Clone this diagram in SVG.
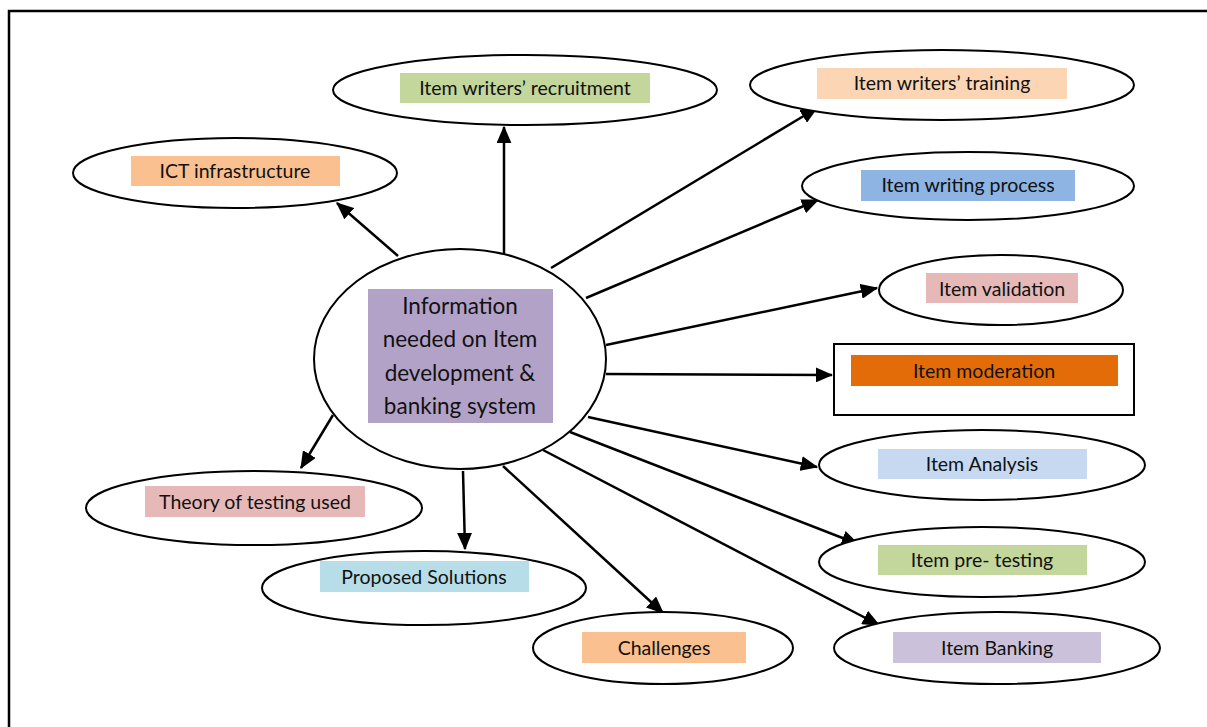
<svg xmlns="http://www.w3.org/2000/svg" width="1207" height="727" viewBox="0 0 1207 727">
  <style>
    .oval { fill: #ffffff; stroke: #000000; stroke-width: 2; }
    .lbl { font-family: Lato, "Liberation Sans", sans-serif; font-size: 19.5px; fill: #111111; text-anchor: middle; dominant-baseline: central; }
    .hub { font-family: Lato, "Liberation Sans", sans-serif; font-size: 22.5px; fill: #111111; text-anchor: middle; dominant-baseline: central; }
    .link { stroke: #000000; stroke-width: 2.5; fill: none; marker-end: url(#head); }
  </style>
  <defs>
    <marker id="head" markerWidth="7" markerHeight="6" refX="6.5" refY="3" orient="auto" markerUnits="strokeWidth">
      <path d="M0,0 L7,3 L0,6 Z" fill="#000000"/>
    </marker>
  </defs>

  <rect width="1207" height="727" fill="#ffffff"/>
  <!-- page frame -->
  <path d="M9,727 L9,11 L1207,11" fill="none" stroke="#000000" stroke-width="2.5"/>

  <g id="connectors">
    <line class="link" x1="398" y1="256" x2="337" y2="203"/>
    <line class="link" x1="504" y1="256" x2="504" y2="127"/>
    <line class="link" x1="551" y1="268" x2="817" y2="108"/>
    <line class="link" x1="586" y1="298" x2="818" y2="200"/>
    <line class="link" x1="606" y1="345" x2="877" y2="288"/>
    <line class="link" x1="606" y1="374" x2="832" y2="375"/>
    <line class="link" x1="588" y1="417" x2="817" y2="467"/>
    <line class="link" x1="570" y1="432" x2="858" y2="544"/>
    <line class="link" x1="543" y1="450" x2="879" y2="625"/>
    <line class="link" x1="503" y1="466" x2="663" y2="613"/>
    <line class="link" x1="463" y1="471" x2="465" y2="549"/>
    <line class="link" x1="333" y1="415" x2="301" y2="468"/>
  </g>

  <g id="hub">
    <ellipse class="oval" cx="460" cy="359" rx="146" ry="110"/>
    <rect x="368" y="289" width="185" height="134" fill="#B3A2C7"/>
    <text class="hub" x="460" y="305">Information</text>
    <text class="hub" x="460" y="338">needed on Item</text>
    <text class="hub" x="460" y="372">development &amp;</text>
    <text class="hub" x="460" y="405">banking system</text>
  </g>

  <g id="ict">
    <ellipse class="oval" cx="235" cy="173" rx="162" ry="35"/>
    <rect x="131" y="156" width="209" height="30" fill="#FAC090"/>
    <text class="lbl" x="235" y="170">ICT infrastructure</text>
  </g>

  <g id="recruitment">
    <ellipse class="oval" cx="525" cy="90" rx="192" ry="35"/>
    <rect x="400" y="73" width="250" height="30" fill="#C3D69B"/>
    <text class="lbl" x="525" y="87">Item writers’ recruitment</text>
  </g>

  <g id="training">
    <ellipse class="oval" cx="942" cy="85" rx="192" ry="35"/>
    <rect x="817" y="68" width="250" height="31" fill="#FCD5B5"/>
    <text class="lbl" x="942" y="82">Item writers’ training</text>
  </g>

  <g id="writing">
    <ellipse class="oval" cx="968" cy="186" rx="166" ry="34"/>
    <rect x="861" y="170" width="214" height="31" fill="#8EB4E3"/>
    <text class="lbl" x="968" y="184">Item writing process</text>
  </g>

  <g id="validation">
    <ellipse class="oval" cx="1001" cy="290" rx="122" ry="35"/>
    <rect x="926" y="273" width="152" height="30" fill="#E6B9B8"/>
    <text class="lbl" x="1002" y="288">Item validation</text>
  </g>

  <g id="moderation">
    <rect x="834" y="344" width="300" height="71" fill="#ffffff" stroke="#000000" stroke-width="2"/>
    <rect x="851" y="355" width="267" height="31" fill="#E36C09"/>
    <text class="lbl" x="984" y="370">Item moderation</text>
  </g>

  <g id="analysis">
    <ellipse class="oval" cx="982" cy="465" rx="163" ry="35"/>
    <rect x="878" y="449" width="209" height="30" fill="#C6D9F1"/>
    <text class="lbl" x="982" y="463">Item Analysis</text>
  </g>

  <g id="pretesting">
    <ellipse class="oval" cx="982" cy="562" rx="163" ry="35"/>
    <rect x="878" y="545" width="209" height="30" fill="#C3D69B"/>
    <text class="lbl" x="982" y="559">Item pre- testing</text>
  </g>

  <g id="banking">
    <ellipse class="oval" cx="997" cy="648" rx="163" ry="36"/>
    <rect x="893" y="632" width="208" height="31" fill="#CCC1DA"/>
    <text class="lbl" x="997" y="647">Item Banking</text>
  </g>

  <g id="challenges">
    <ellipse class="oval" cx="663" cy="648" rx="130" ry="36"/>
    <rect x="582" y="632" width="164" height="31" fill="#FAC090"/>
    <text class="lbl" x="664" y="647">Challenges</text>
  </g>

  <g id="solutions">
    <ellipse class="oval" cx="424" cy="588" rx="162" ry="37"/>
    <rect x="320" y="561" width="209" height="31" fill="#B7DEE8"/>
    <text class="lbl" x="424" y="576">Proposed Solutions</text>
  </g>

  <g id="theory">
    <ellipse class="oval" cx="254" cy="508" rx="168" ry="37"/>
    <rect x="145" y="486" width="220" height="31" fill="#E6B9B8"/>
    <text class="lbl" x="255" y="501">Theory of testing used</text>
  </g>
</svg>
